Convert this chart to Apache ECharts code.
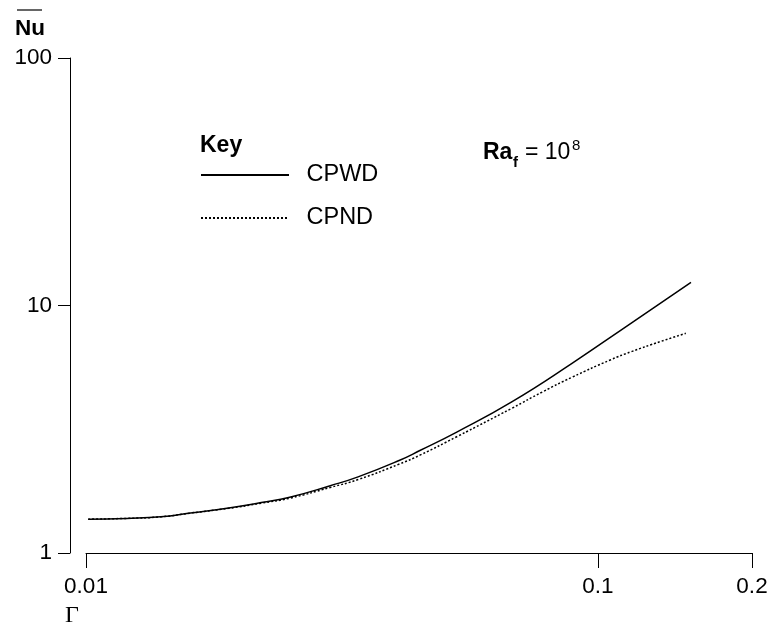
<!DOCTYPE html>
<html>
<head>
<meta charset="utf-8">
<script src="https://cdn.jsdelivr.net/npm/echarts@6/dist/echarts.min.js"></script>
<style>
  html, body { margin: 0; padding: 0; background: #fff; }
  #chart { width: 773px; height: 629px; }
</style>
</head>
<body>
<div id="chart"></div>
<script>
// Aspect ratio Γ (x) against mean Nusselt number (y), Ra_f = 1e8
const gammaCPWD = [0.0101, 0.012, 0.014, 0.016, 0.019, 0.022, 0.025, 0.03, 0.034, 0.041, 0.045, 0.053, 0.068, 0.089, 0.116, 0.152];
const nuCPWD    = [1.37,   1.38,  1.40,  1.45,  1.52,  1.60,  1.68,  1.87, 2.03,  2.37,  2.60,  3.08,  4.09,  5.84,  8.47,  12.4];

const gammaCPND = [0.0101, 0.012, 0.014, 0.016, 0.019, 0.022, 0.025, 0.03, 0.034, 0.041, 0.045, 0.053, 0.068, 0.078, 0.089, 0.106, 0.116, 0.133, 0.1485];
const nuCPND    = [1.37,   1.38,  1.40,  1.45,  1.515, 1.59,  1.665, 1.84, 1.98,  2.29,  2.49,  2.95,  3.85,  4.48,  5.13,  6.04,  6.50,  7.17,  7.72];

const xTicks = [0.01, 0.1, 0.2];
const xTickLabels = ['0.01', '0.1', '0.2'];
const yTicks = [1, 10, 100];
const yTickLabels = ['1', '10', '100'];

const seriesNames = ['CPWD', 'CPND'];

const FONT = 'Liberation Sans, Arial, sans-serif';

function nearestLabel(v, ticks, labels) {
  let best = 0;
  for (let i = 1; i < ticks.length; i++) {
    if (Math.abs(Math.log10(ticks[i]) - Math.log10(v)) < Math.abs(Math.log10(ticks[best]) - Math.log10(v))) best = i;
  }
  return labels[best];
}

const chart = echarts.init(document.getElementById('chart'), null, { renderer: 'canvas' });

chart.setOption({
  animation: false,
  backgroundColor: '#fff',
  grid: { left: 86, right: 21, top: 58, bottom: 76, containLabel: false },
  xAxis: {
    type: 'log',
    logBase: 10,
    min: 0.01,
    max: 0.2,
    axisLine: { show: true, lineStyle: { color: '#000', width: 1 } },
    axisTick: { show: true, length: 15, customValues: xTicks, lineStyle: { color: '#000', width: 1 } },
    minorTick: { show: false },
    axisLabel: {
      customValues: xTicks,
      margin: 22,
      color: '#000',
      fontFamily: FONT,
      fontSize: 22.5,
      formatter: v => nearestLabel(v, xTicks, xTickLabels)
    },
    splitLine: { show: false }
  },
  yAxis: {
    type: 'log',
    logBase: 10,
    min: 1,
    max: 100,
    offset: 16,
    axisLine: { show: true, lineStyle: { color: '#000', width: 1 } },
    axisTick: { show: true, length: 12, customValues: yTicks, lineStyle: { color: '#000', width: 1 } },
    minorTick: { show: false },
    axisLabel: {
      customValues: yTicks,
      margin: 18,
      color: '#000',
      fontFamily: FONT,
      fontSize: 22.5,
      formatter: v => nearestLabel(v, yTicks, yTickLabels)
    },
    splitLine: { show: false }
  },
  legend: {
    orient: 'vertical',
    left: 200,
    top: 160,
    padding: 0,
    itemWidth: 88,
    itemHeight: 14,
    itemGap: 13,
    data: seriesNames,
    itemStyle: { opacity: 0 },
    lineStyle: { opacity: 1 },
    textStyle: {
      color: '#000',
      fontFamily: FONT,
      fontSize: 23.5,
      lineHeight: 24,
      padding: [6, 0, 0, 12.5]
    }
  },
  graphic: [
    // y-axis title: mean Nusselt number (bar over Nu)
    { type: 'text', left: 15, top: 17, style: { text: 'Nu', font: 'bold 22.5px ' + FONT, fill: '#000' } },
    { type: 'line', shape: { x1: 17, y1: 10, x2: 42, y2: 10 }, style: { stroke: '#000', lineWidth: 1.2 } },
    // x-axis title
    { type: 'text', left: 65, top: 604, style: { text: 'Γ', font: '24px Liberation Serif, Times New Roman, serif', fill: '#000' } },
    // legend heading
    { type: 'text', left: 200, top: 134, style: { text: 'Key', font: 'bold 23px ' + FONT, fill: '#000' } },
    // Ra_f = 10^8
    { type: 'text', left: 483, top: 141.5, style: { text: 'Ra', font: 'bold 23px ' + FONT, fill: '#000' } },
    { type: 'text', left: 513, top: 155, style: { text: 'f', font: 'bold 15px ' + FONT, fill: '#000' } },
    { type: 'text', left: 525, top: 141.5, style: { text: '= 10', font: '23px ' + FONT, fill: '#000' } },
    { type: 'text', left: 572, top: 138, style: { text: '8', font: '15px ' + FONT, fill: '#000' } }
  ],
  series: [
    {
      name: seriesNames[0],
      type: 'line',
      smooth: true,
      symbol: 'none',
      data: gammaCPWD.map((g, i) => [g, nuCPWD[i]]),
      lineStyle: { color: '#000', width: 1.5, type: 'solid' },
      itemStyle: { color: '#000' }
    },
    {
      name: seriesNames[1],
      type: 'line',
      smooth: true,
      symbol: 'none',
      data: gammaCPND.map((g, i) => [g, nuCPND[i]]),
      lineStyle: { color: '#000', width: 1.5, type: [2, 2] },
      itemStyle: { color: '#000' }
    }
  ]
});
</script>
</body>
</html>
